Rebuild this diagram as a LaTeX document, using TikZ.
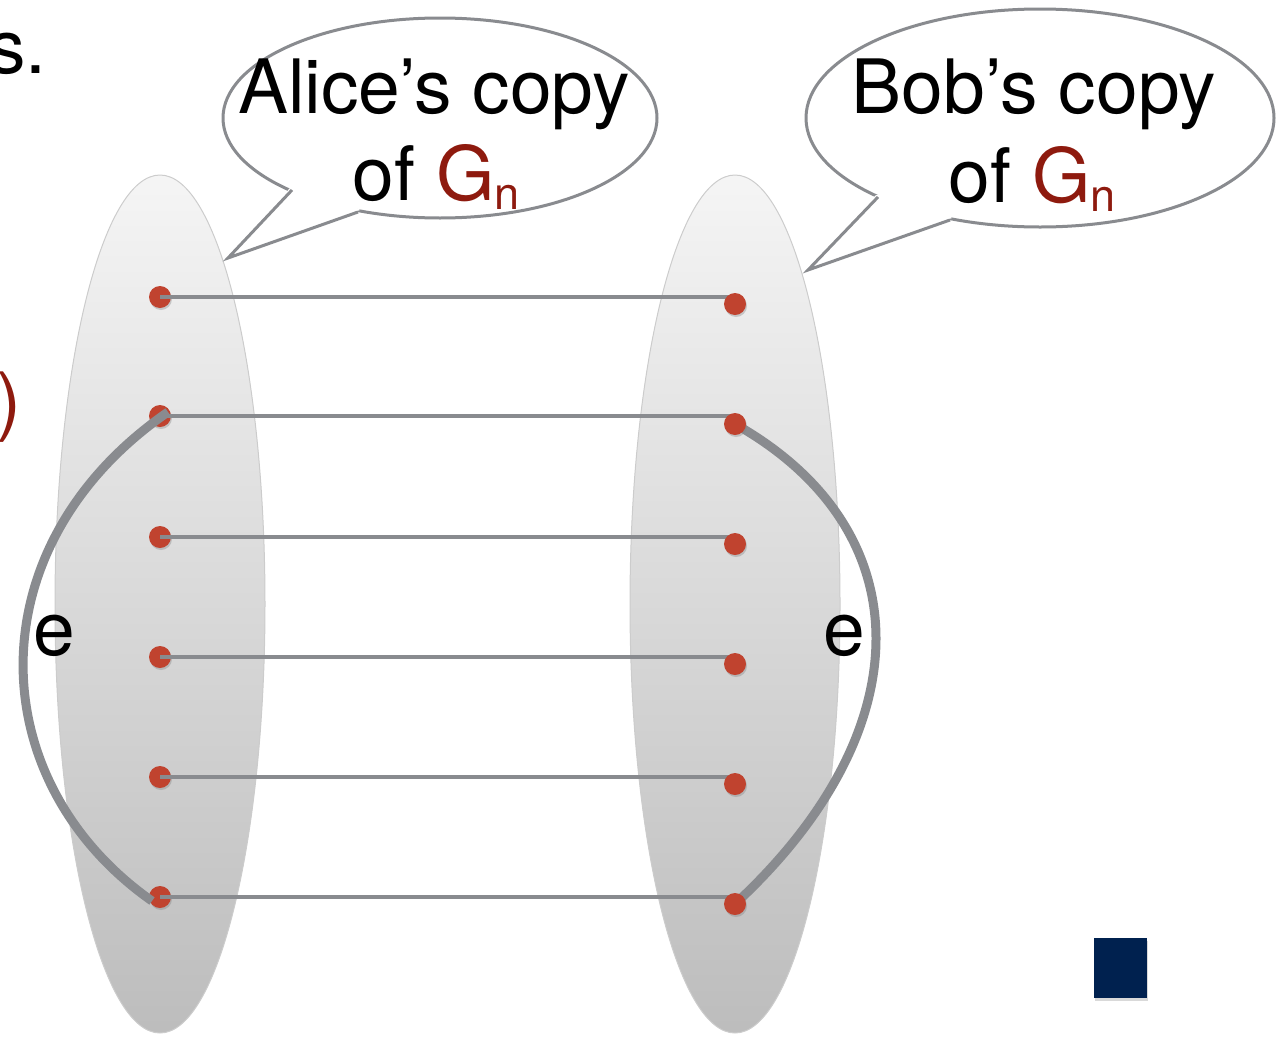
\documentclass[tikz,border=0pt]{standalone}
\usepackage{fontspec}
\setmainfont{TeX Gyre Heros}
\usetikzlibrary{shadows}
\definecolor{dotred}{HTML}{C0432F}
\definecolor{linegray}{HTML}{898B8F}
\definecolor{gnred}{HTML}{8E1A0E}
\definecolor{navy}{HTML}{00214F}
\pgfdeclarelayer{fg}
\pgfsetlayers{main,fg}
\tikzset{
  dotnode/.style={circle,fill=dotred,inner sep=0pt,minimum size=22pt,
    drop shadow={shadow xshift=1pt,shadow yshift=-2pt,opacity=0.35}},
  edgeline/.style={draw=linegray,line width=4pt},
  thickcurve/.style={draw=linegray,line width=9pt},
  bubble/.style={draw=linegray,line width=3pt,fill=white},
  bigtxt/.style={font=\fontsize{75}{80}\selectfont,inner sep=0pt},
  graphset/.style={top color=white!96!black,bottom color=black!26,draw=black!20,line width=1pt}
}
\newcommand{\Gn}{\textcolor{gnred}{G\raisebox{-9pt}{\fontsize{45}{45}\selectfont n}}}
\begin{document}
\begin{tikzpicture}[x=1pt,y=-1pt]
\useasboundingbox (0,0) rectangle (1281,1036);
\clip (0,0) rectangle (1281,1036);
% sets
\shade[graphset] (160,604) ellipse [x radius=105,y radius=429];
\shade[graphset] (735,604) ellipse [x radius=105,y radius=429];
% right dots on foreground
\begin{pgfonlayer}{fg}
\node[dotnode] (R1) at (735,304) {};
\node[dotnode] (R2) at (735,424) {};
\node[dotnode] (R3) at (735,544) {};
\node[dotnode] (R4) at (735,664) {};
\node[dotnode] (R5) at (735,784) {};
\node[dotnode] (R6) at (735,904) {};
\end{pgfonlayer}
% left dots
\node[dotnode] (L1) at (160,297) {};
\node[dotnode] (L2) at (160,416) {};
\node[dotnode] (L3) at (160,537) {};
\node[dotnode] (L4) at (160,657) {};
\node[dotnode] (L5) at (160,777) {};
\node[dotnode] (L6) at (160,897) {};
% matching edges
\foreach \i in {1,...,6}{
  \draw[edgeline] (L\i.center) -- (L\i.center -| R\i.center);
}
% thick curves e
\draw[thickcurve] ([xshift=8pt,yshift=4pt]L2.center) .. controls (-25,545) and (-20,780) .. ([xshift=-8pt,yshift=-4pt]L6.center);
\draw[thickcurve] (R2.center) .. controls (923,530) and (923,730) .. (R6.center);
\node[bigtxt,anchor=base] (eL) at (54,655) {e};
\node[bigtxt,anchor=base] (eR) at (844,655) {e};
% speech bubbles
\draw[bubble] (440,118) ellipse [x radius=217,y radius=100];
\fill[white] (290,188) -- (228,258) -- (360,210) -- (330,190) -- cycle;
\draw[linegray,line width=3pt,line join=miter] (292,190) -- (228,258) -- (358,212);
\draw[bubble] (1040,118) ellipse [x radius=234,y radius=109];
\fill[white] (876,195) -- (808,270) -- (952,218) -- (920,195) -- cycle;
\draw[linegray,line width=3pt,line join=miter] (878,197) -- (808,270) -- (950,220);
\node[bigtxt,anchor=base] (a1) at (434,113) {Alice’s copy};
\node[bigtxt,anchor=base] (a2) at (436,200) {of \Gn};
\node[bigtxt,anchor=base] (b1) at (1034,113) {Bob’s copy};
\node[bigtxt,anchor=base] (b2) at (1032,202) {of \Gn};
% fragments of slide text
\node[bigtxt,anchor=base east] (s) at (47,73) {s.};
\node[bigtxt,anchor=base east,text=gnred] (par) at (22,426) {)};
% navy square
\fill[navy,drop shadow={shadow xshift=1pt,shadow yshift=-3pt,opacity=0.3}] (1094,938) rectangle (1147,998);
\end{tikzpicture}
\end{document}
